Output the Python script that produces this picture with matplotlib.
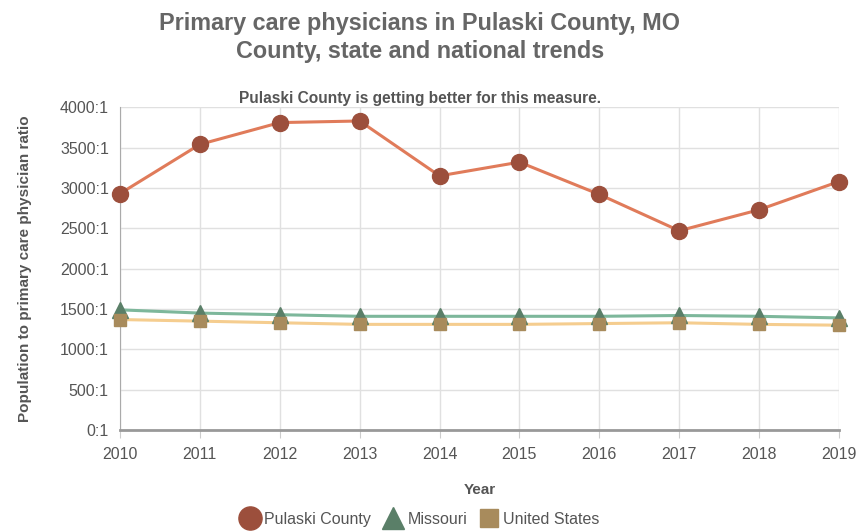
import numpy as np
import matplotlib
matplotlib.use('Agg')
from matplotlib import pyplot as plt
from matplotlib.lines import Line2D
from matplotlib.ticker import FuncFormatter, MultipleLocator

plt.rcParams['font.family'] = ['Liberation Sans', 'DejaVu Sans']

years = [2010, 2011, 2012, 2013, 2014, 2015, 2016, 2017, 2018, 2019]
pulaski = [2930, 3540, 3810, 3830, 3150, 3320, 2920, 2470, 2730, 3080]
missouri = [1490, 1450, 1430, 1410, 1410, 1410, 1410, 1420, 1410, 1390]
united_states = [1370, 1350, 1330, 1310, 1310, 1310, 1320, 1330, 1310, 1300]

series = [
    ('Pulaski County', pulaski, '#e07b5a', '#9c4f3c', 'o', 11.5),
    ('Missouri', missouri, '#7db79b', '#5a7f68', '^', 11),
    ('United States', united_states, '#f5cd8f', '#a88b5c', 's', 9),
]

fig = plt.figure(figsize=(8.57, 5.31), dpi=100)
ax = fig.add_axes([0.140, 0.190, 0.839, 0.608])

handles = []
for name, vals, line_c, mark_c, marker, ms in series:
    ax.plot(years, vals, color=line_c, lw=2.2, zorder=3)
    ax.plot(years, vals, ls='none', marker=marker, ms=ms, color=mark_c,
            markeredgecolor=mark_c, zorder=4, clip_on=False)
    handles.append(Line2D([], [], ls='none', marker=marker, color=mark_c,
                          markersize=ms * 1.45, label=name))

ax.set_xlim(2010, 2019)
ax.set_ylim(0, 4000)
ax.set_xticks(years)
ax.yaxis.set_major_locator(MultipleLocator(500))
ax.yaxis.set_major_formatter(FuncFormatter(lambda v, p: f'{int(v)}:1'))
ax.grid(True, color='#e0e0e0', lw=1)
ax.set_axisbelow(True)
for side in ['top', 'right']:
    ax.spines[side].set_visible(False)
ax.spines['left'].set_color('#aaaaaa')
ax.spines['bottom'].set_color('#999999')
ax.spines['bottom'].set_linewidth(2)
ax.tick_params(axis='both', colors='#555555', labelsize=11.5, length=0, pad=8)
ax.tick_params(axis='x', length=6, color='#cccccc', pad=6)

ax.set_xlabel('Year', fontsize=11, fontweight='bold', color='#555555', labelpad=15)
ax.set_ylabel('Population to primary care physician ratio', fontsize=11,
              fontweight='bold', color='#555555', labelpad=20)

fig.text(0.49, 0.955, 'Primary care physicians in Pulaski County, MO',
         ha='center', va='center', fontsize=16.8, fontweight='bold', color='#666666')
fig.text(0.49, 0.903, 'County, state and national trends',
         ha='center', va='center', fontsize=16.8, fontweight='bold', color='#666666')
fig.text(0.49, 0.815, 'Pulaski County is getting better for this measure.',
         ha='center', va='center', fontsize=11.2, fontweight='bold', color='#555555')

fig.legend(handles=handles, loc='center', bbox_to_anchor=(0.49, 0.022), ncol=3,
           frameon=False, fontsize=11.5, handletextpad=0.3, columnspacing=0.75,
           labelcolor='#555555', handlelength=1.2)

fig.savefig('out.png', dpi=100)
